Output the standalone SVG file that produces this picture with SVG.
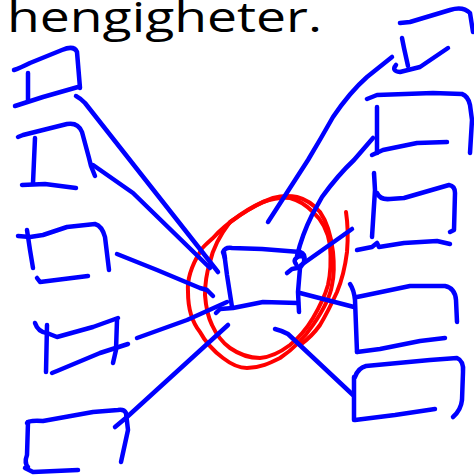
<svg xmlns="http://www.w3.org/2000/svg" width="474" height="475" viewBox="0 0 474 475">
<style>
.b{fill:none;stroke:#0000FF;stroke-width:4.5;stroke-linecap:round;stroke-linejoin:round}
.r{fill:none;stroke:#FF0000;stroke-width:4;stroke-linecap:round;stroke-linejoin:round}
.t{font-family:"Open Sans","Liberation Sans",sans-serif;font-size:42px;fill:#000}
</style>
<rect width="474" height="475" fill="#fff"/>
<text class="t" x="7" y="32" textLength="315" lengthAdjust="spacingAndGlyphs">hengigheter.</text>
<g id="red-circle">
<path class="r" d="M213,238 C205,245 200,250 200,252 C192,265 187,280 188,292 C188,310 192,322 200,332 C207,345 215,352 223,358 C232,365 240,368 247,368 C260,368 270,363 280,358 C295,348 305,337 313,325 C322,312 330,298 332,285 C335,272 334,262 333,252 C331,235 327,222 320,212 C313,204 305,199 297,197 C288,195 280,196 273,198 C262,202 250,208 240,215 C230,222 220,230 213,238"/>
<path class="r" d="M230,222 C220,235 213,248 210,262 C206,275 205,285 205,295 C206,308 208,317 212,325 C217,336 223,343 230,348 C240,355 250,358 260,358 C272,357 282,351 290,345 C300,337 307,328 313,318 C320,306 325,296 328,285 C331,272 331,258 330,245 C328,232 322,220 313,212 C306,205 298,200 290,198 C281,197 272,199 263,202 C250,208 240,215 230,222"/>
<path class="r" d="M346,212 C348,225 348,240 347,252 C345,268 342,280 337,292 C331,305 326,315 320,325 C313,335 307,340 300,345"/>
</g>
<g id="L1">
<path class="b" d="M14,70 C20,68 24,66 30,63 L62,50 Q74,45 77,52 L80,88"/>
<path class="b" d="M28,73 L28,101"/>
<path class="b" d="M15,106 L43,97 L78,87"/>
</g>
<g id="L2">
<path class="b" d="M18,137 L23,135 L67,124 Q78,122 82,132 L89,158 L91,166 L95,176"/>
<path class="b" d="M35,138 L33,183"/>
<path class="b" d="M22,185 L45,184 L76,188"/>
</g>
<g id="L3">
<path class="b" d="M18,236 L30,237 L43,235 L67,227 L95,224 Q102,226 105,237 L109,270"/>
<path class="b" d="M27,230 L30,250 L33,268"/>
<path class="b" d="M37,278 L40,282 L88,276"/>
</g>
<g id="L4">
<path class="b" d="M35,323 Q38,332 47,333 L57,337 L93,327 L118,318"/>
<path class="b" d="M47,325 L46,372"/>
<path class="b" d="M117,320 L116,350 L113,363"/>
<path class="b" d="M52,373 L57,371 L100,353 L128,344"/>
</g>
<g id="L5">
<path class="b" d="M27,423 Q28,420 43,421 L93,412 L118,410 Q124,409 126,413 L128,430 L121,462"/>
<path class="b" d="M28,422 L27,455 Q24,463 28,467"/>
<path class="b" d="M25,468 L33,472 L78,470"/>
</g>
<g id="center">
<path class="b" d="M225,258 L223,252 Q225,247 232,248 L262,249 L300,252 Q306,254 304,260"/>
<path class="b" d="M296,264 Q292,259 300,256 Q306,256 304,262 L300,268 L298,292 L299,312"/>
<path class="b" d="M224,252 L227,275 L232,307"/>
<path class="b" d="M216,313 L220,309 L233,308 L263,302 L298,303"/>
</g>
<g id="R1">
<path class="b" d="M400,23 L410,22 L450,10 Q463,6 470,13 L473,32"/>
<path class="b" d="M402,38 L404,48 L408,66"/>
<path class="b" d="M396,65 Q391,71 400,72 L420,67 L448,48"/>
</g>
<g id="R2">
<path class="b" d="M367,99 L377,95 L433,93 L462,94 Q468,96 470,105 L472,120 L470,153"/>
<path class="b" d="M377,107 L377,153"/>
<path class="b" d="M372,155 L383,150 L417,143 L447,142"/>
</g>
<g id="R3">
<path class="b" d="M377,193 Q380,200 390,199 L404,198 L449,185 Q455,186 455,193 L454,230 L450,232"/>
<path class="b" d="M374,173 L375,190 L372,237"/>
<path class="b" d="M357,250 L372,247 L377,243 L379,247 L404,243 L437,241 L450,244"/>
</g>
<g id="R4">
<path class="b" d="M357,297 L362,296 L410,286 L445,286 Q455,288 456,300 L457,322"/>
<path class="b" d="M350,284 Q354,290 355,300 L357,352"/>
<path class="b" d="M357,352 L380,349 L420,341 L445,338"/>
</g>
<g id="R5">
<path class="b" d="M355,377 Q358,368 366,366 L430,360 L457,358 Q464,361 463,372 L462,400 Q461,410 453,417"/>
<path class="b" d="M354,377 L354,420"/>
<path class="b" d="M355,420 L395,415 L435,409"/>
</g>
<g id="connectors">
<path class="b" d="M76,96 Q80,98 85,103 L218,272"/>
<path class="b" d="M93,165 L133,193 L210,268"/>
<path class="b" d="M117,254 L157,270 L200,288 L207,290 L213,296"/>
<path class="b" d="M137,338 L187,320 L227,302"/>
<path class="b" d="M115,427 L127,417 L228,325"/>
<path class="b" d="M268,222 L308,160 Q320,140 333,117 Q350,92 367,77 L392,57"/>
<path class="b" d="M297,256 Q302,235 312,215 L322,197 Q338,175 354,160 L373,138"/>
<path class="b" d="M287,273 L292,269 L297,268 L352,229"/>
<path class="b" d="M300,293 L354,307"/>
<path class="b" d="M275,329 Q283,331 288,334 L353,395"/>
</g>
</svg>
